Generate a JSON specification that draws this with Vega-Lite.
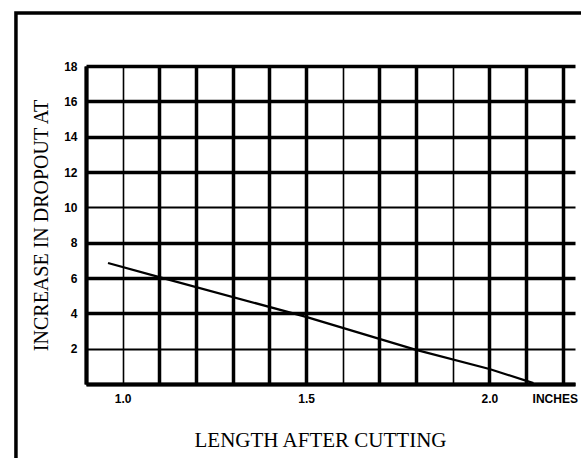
{
  "$schema": "https://vega.github.io/schema/vega-lite/v6.json",
  "width": 489,
  "height": 318,
  "autosize": {"type": "none"},
  "padding": {"left": 86, "top": 66, "right": 6, "bottom": 74},
  "background": "white",
  "config": {"view": {"stroke": null}},
  "datasets": {
    "curve": [
      {"length": 0.96, "dropout": 6.85},
      {"length": 1.1, "dropout": 6.05},
      {"length": 1.5, "dropout": 3.8},
      {"length": 1.8, "dropout": 1.93},
      {"length": 2.0, "dropout": 0.85},
      {"length": 2.12, "dropout": 0.05}
    ],
    "frame": [{"length": 0.709, "length2": 2.6, "dropout": 21.0, "dropout2": -6}]
  },
  "encoding": {
    "x": {
      "field": "length",
      "type": "quantitative",
      "scale": {"domain": [0.9, 2.2333], "nice": false, "zero": false},
      "axis": {
        "title": "LENGTH AFTER CUTTING",
        "titleFont": "Liberation Serif",
        "titleFontSize": 21,
        "titleFontWeight": "normal",
        "titleColor": "black",
        "titleX": 234,
        "titleY": 56,
        "titleBaseline": "middle",
        "titleAnchor": "middle",
        "values": [0.9, 1.0, 1.1, 1.2, 1.3, 1.4, 1.5, 1.6, 1.7, 1.8, 1.9, 2.0, 2.1, 2.2],
        "labelExpr": "datum.value == 1 ? '1.0' : datum.value == 1.5 ? '1.5' : datum.value == 2 ? '2.0' : datum.value == 2.2 ? 'INCHES' : ''",
        "labelFont": "Liberation Sans",
        "labelFontSize": 12,
        "labelFontWeight": "bold",
        "labelColor": "black",
        "labelPadding": 9,
        "labelOffset": {"condition": {"test": "datum.value == 2.2", "value": -8}, "value": 0},
        "labelOverlap": false,
        "labelBound": false,
        "labelFlush": false,
        "ticks": false,
        "domainColor": "black",
        "domainWidth": 4,
        "grid": true,
        "gridColor": "black",
        "gridOpacity": 1,
        "gridWidth": {"condition": {"test": "datum.value == 1 || datum.value == 1.6 || datum.value == 1.9", "value": 1.6}, "value": 3.5}
      }
    },
    "y": {
      "field": "dropout",
      "type": "quantitative",
      "scale": {"domain": [0, 18], "nice": false},
      "axis": {
        "title": "INCREASE IN DROPOUT AT",
        "titleFont": "Liberation Serif",
        "titleFontSize": 20,
        "titleFontWeight": "normal",
        "titleColor": "black",
        "titleAngle": -90,
        "titleX": -45,
        "titleY": 159,
        "titleBaseline": "middle",
        "titleAnchor": "middle",
        "values": [0, 2, 4, 6, 8, 10, 12, 14, 16, 18],
        "labelExpr": "datum.value == 0 ? '' : datum.label",
        "labelFont": "Liberation Sans",
        "labelFontSize": 12,
        "labelFontWeight": "bold",
        "labelColor": "black",
        "labelPadding": 9,
        "labelOverlap": false,
        "ticks": false,
        "domainColor": "black",
        "domainWidth": 4,
        "grid": true,
        "gridColor": "black",
        "gridOpacity": 1,
        "gridWidth": {"condition": {"test": "datum.value == 10 || datum.value == 2", "value": 2}, "value": 3.5}
      }
    }
  },
  "layer": [
    {
      "data": {"name": "curve"},
      "mark": {"type": "line", "color": "black", "strokeWidth": 2.2}
    },
    {
      "data": {"name": "frame"},
      "mark": {"type": "rect", "fill": null, "stroke": "black", "strokeWidth": 3.5, "clip": false},
      "encoding": {
        "x2": {"field": "length2"},
        "y2": {"field": "dropout2"}
      }
    }
  ]
}
